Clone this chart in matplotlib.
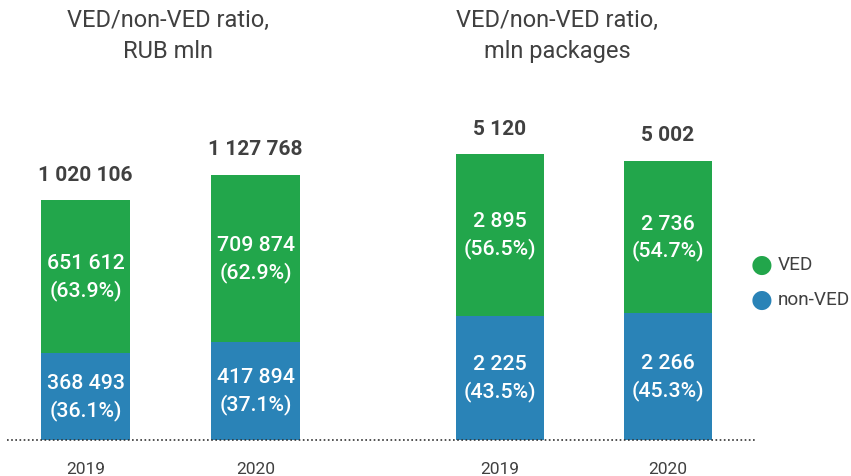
import numpy as np
import matplotlib.pyplot as plt

plt.rcParams["font.family"] = ["Roboto", "DejaVu Sans"]

years = ["2019", "2020"]

# RUB mln
rub_non_ved = [368493, 417894]
rub_ved = [651612, 709874]
rub_total = [1020106, 1127768]
rub_non_ved_pct = ["36.1%", "37.1%"]
rub_ved_pct = ["63.9%", "62.9%"]

# mln packages
pkg_non_ved = [2225, 2266]
pkg_ved = [2895, 2736]
pkg_total = [5120, 5002]
pkg_non_ved_pct = ["43.5%", "45.3%"]
pkg_ved_pct = ["56.5%", "54.7%"]

green = "#22a64b"
blue = "#2a83b7"
dark = "#404040"

W, H = 851, 477
fig = plt.figure(figsize=(W / 100, H / 100), dpi=100)


def fmt(v):
    return f"{v:,}".replace(",", " ")


def panel(left_px, right_px, xlim, ymax, non_ved, ved, total, non_pct, ved_pct, title, title_x):
    ax = fig.add_axes([left_px / W, 1 - 441 / H, (right_px - left_px) / W, 341 / H])
    x = np.arange(len(years))
    ax.bar(x, non_ved, width=0.525, color=blue)
    ax.bar(x, ved, width=0.525, bottom=non_ved, color=green)
    for i in x:
        nv, v = non_ved[i], ved[i]
        ax.text(i, nv / 2, f"{fmt(nv)}\n({non_pct[i]})", ha="center", va="center",
                color="white", fontsize=15.3, fontweight="medium", linespacing=1.42)
        ax.text(i, nv + v / 2, f"{fmt(v)}\n({ved_pct[i]})", ha="center", va="center",
                color="white", fontsize=15.3, fontweight="medium", linespacing=1.42)
        ax.text(i, nv + v + ymax * 0.048, fmt(total[i]), ha="center", va="bottom",
                color=dark, fontsize=15, fontweight="bold")
        ax.text(i, -ymax * 0.083, years[i], ha="center", va="center",
                color=dark, fontsize=12.5)
    ax.axhline(0, color="#333333", lw=1.2, ls=(0, (1, 1.5)), clip_on=False)
    ax.set_xlim(*xlim)
    ax.set_ylim(0, ymax)
    ax.axis("off")
    fig.text(title_x / W, 1 - 36 / H, title, ha="center", va="center",
             color=dark, fontsize=17, linespacing=1.4)
    return ax


panel(7, 378, (-0.462, 1.72), 1020106 * 341 / 240,
      rub_non_ved, rub_ved, rub_total, rub_non_ved_pct, rub_ved_pct,
      "VED/non-VED ratio,\nRUB mln", 168)
panel(378, 755, (-0.728, 1.522), 5120 * 341 / 286,
      pkg_non_ved, pkg_ved, pkg_total, pkg_non_ved_pct, pkg_ved_pct,
      "VED/non-VED ratio,\nmln packages", 557)

# legend
for label, color, y in [("VED", green, 265), ("non-VED", blue, 300)]:
    fig.text(762 / W, 1 - y / H, "●", color=color, fontsize=18, ha="center", va="center",
             family="DejaVu Sans")
    fig.text(778 / W, 1 - y / H, label, color=dark, fontsize=13.7, ha="left", va="center")

fig.savefig("out.png", dpi=100)
